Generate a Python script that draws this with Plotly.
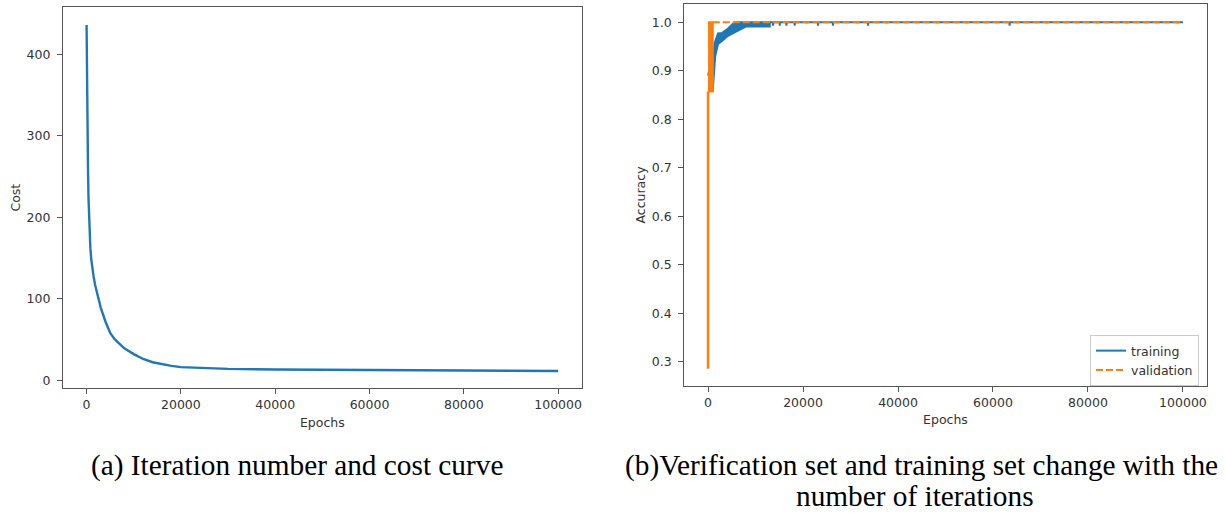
import plotly.graph_objects as go

# ---------------- data ----------------
# (a) cost curve
cost_epochs = [0, 50, 100, 200, 300, 400, 600, 800, 1000, 1200, 1500, 1800, 2000, 2500, 3000,
               4000, 5000, 6000, 7000, 8000, 10000, 12000, 14000, 16000, 18000,
               20000, 25000, 30000, 40000, 50000, 60000, 70000, 80000, 90000, 100000]
cost_values = [436, 380, 345, 303, 260, 225, 185, 162, 148, 138, 127, 117, 112, 100, 89,
               72, 58, 50, 44, 39, 32, 26, 22, 19.5, 17.5,
               16, 14.5, 13.8, 13, 12.8, 12.6, 12.4, 12, 11.6, 11.3]

# (b) training accuracy: oscillating band (upper / lower envelope) early on
train_band_epochs = [0, 1000, 1500, 2100, 3000, 4200, 5600, 6700, 8000, 13000]
train_band_high = [0.89, 0.935, 0.96, 0.977, 0.978, 0.987, 1.0, 1.0, 1.0, 1.0]
train_band_low = [0.86, 0.86, 0.93, 0.955, 0.962, 0.972, 0.98, 0.985, 0.991, 0.991]
# training accuracy afterwards: 1.0 with occasional dips
train_epochs = [13000, 13650, 13700, 13750, 15050, 15100, 15150, 16450, 16500, 16550,
                18200, 18250, 18300, 23100, 23160, 23220, 26250, 26300, 26350,
                33650, 33700, 33750, 63450, 63500, 63550, 100000]
train_acc = [1.0, 1.0, 0.993, 1.0, 1.0, 0.993, 1.0, 1.0, 0.993, 1.0,
             1.0, 0.993, 1.0, 1.0, 0.993, 1.0, 1.0, 0.993, 1.0,
             1.0, 0.993, 1.0, 1.0, 0.993, 1.0, 1.0]

# validation accuracy
val_rise_epochs = [0, 0]
val_rise_acc = [0.2857, 0.857]
val_osc_epochs = [0, 1000]
val_osc_low = [0.857, 0.857]
val_osc_high = [1.0, 1.0]
val_epochs = [1000, 100000]
val_acc = [1.0, 1.0]

x_ticks = [0, 20000, 40000, 60000, 80000, 100000]
x_tick_labels = ["0", "20000", "40000", "60000", "80000", "100000"]
cost_ticks = [0, 100, 200, 300, 400]
acc_ticks = [0.3, 0.4, 0.5, 0.6, 0.7, 0.8, 0.9, 1.0]

caption_a = "(a) Iteration number and cost curve"
caption_b1 = "(b)Verification set and training set change with the"
caption_b2 = "number of iterations"

BLUE = "#1f77b4"
ORANGE = "#ff7f0e"
W, H = 1225, 516

fig = go.Figure()

# (a)
fig.add_trace(go.Scatter(x=cost_epochs, y=cost_values, mode="lines",
                         line=dict(color=BLUE, width=2.4), showlegend=False,
                         xaxis="x", yaxis="y"))

# (b) training band
band_x = train_band_epochs + train_band_epochs[::-1]
band_y = train_band_high + train_band_low[::-1]
fig.add_trace(go.Scatter(x=band_x, y=band_y, mode="lines", fill="toself",
                         fillcolor=BLUE, line=dict(color=BLUE, width=2),
                         showlegend=False, xaxis="x2", yaxis="y2"))
fig.add_trace(go.Scatter(x=train_epochs, y=train_acc, mode="lines", name="training",
                         line=dict(color=BLUE, width=2), xaxis="x2", yaxis="y2"))

# (b) validation
osc_x = val_osc_epochs + val_osc_epochs[::-1]
osc_y = val_osc_low + val_osc_high[::-1]
fig.add_trace(go.Scatter(x=osc_x, y=osc_y, mode="lines", fill="toself",
                         fillcolor=ORANGE, line=dict(color=ORANGE, width=2),
                         showlegend=False, xaxis="x2", yaxis="y2"))
fig.add_trace(go.Scatter(x=val_rise_epochs, y=val_rise_acc, mode="lines",
                         line=dict(color=ORANGE, width=2.6),
                         showlegend=False, xaxis="x2", yaxis="y2"))
fig.add_trace(go.Scatter(x=val_epochs, y=val_acc, mode="lines", name="validation",
                         line=dict(color=ORANGE, width=2, dash="7px,3px"),
                         xaxis="x2", yaxis="y2"))

tickfont = dict(family="DejaVu Sans", size=12.5, color="#333")
axis_common = dict(showline=True, mirror=True, linecolor="#555", linewidth=1.3,
                   ticks="outside", ticklen=5, tickcolor="#555", tickwidth=1.2,
                   showgrid=False, zeroline=False, tickfont=tickfont)
titlefont = dict(family="DejaVu Sans", size=12.5, color="#333")

fig.update_layout(
    width=W, height=H, autosize=False,
    margin=dict(l=0, r=0, t=0, b=0),
    paper_bgcolor="white", plot_bgcolor="white",
    xaxis=dict(domain=[63 / W, 581.7 / W], range=[-5000, 105000], tickvals=x_ticks,
               ticktext=x_tick_labels, anchor="y",
               title=dict(text="Epochs", font=titlefont, standoff=6),
               **axis_common),
    yaxis=dict(domain=[1 - 388.3 / H, 1 - 7 / H], range=[-10, 458], tickvals=cost_ticks,
               anchor="x", ticklabelstandoff=4,
               title=dict(text="Cost", font=titlefont, standoff=3),
               **axis_common),
    xaxis2=dict(domain=[684.3 / W, 1206.7 / W], range=[-5000, 105000], tickvals=x_ticks,
                ticktext=x_tick_labels, anchor="y2",
                title=dict(text="Epochs", font=titlefont, standoff=6),
                **axis_common),
    yaxis2=dict(domain=[1 - 385.7 / H, 1 - 4.3 / H], range=[0.2505, 1.037],
                tickvals=acc_ticks, tickformat=".1f", anchor="x2", ticklabelstandoff=4,
                title=dict(text="Accuracy", font=titlefont, standoff=3),
                **axis_common),
    legend=dict(x=1199 / W, y=1 - 335 / H, xanchor="right", yanchor="top",
                bgcolor="rgba(255,255,255,0.8)", bordercolor="#ccc", borderwidth=1,
                font=dict(family="DejaVu Sans", size=12.5, color="#333"),
                itemwidth=30, tracegroupgap=0),
    showlegend=True,
)

capfont = dict(family="Liberation Serif", size=29.3, color="black")
fig.add_annotation(text=caption_a, x=297 / W, y=1 - 465 / H, xref="paper", yref="paper",
                   xanchor="center", yanchor="middle", showarrow=False, font=capfont)
fig.add_annotation(text=caption_b1, x=921.5 / W, y=1 - 465 / H, xref="paper", yref="paper",
                   xanchor="center", yanchor="middle", showarrow=False, font=capfont)
fig.add_annotation(text=caption_b2, x=915 / W, y=1 - 496 / H, xref="paper", yref="paper",
                   xanchor="center", yanchor="middle", showarrow=False, font=capfont)

fig.write_html("out.html", config={"displayModeBar": False},
               post_script="document.body.style.margin='0';"
                           "document.body.style.overflow='hidden';")
